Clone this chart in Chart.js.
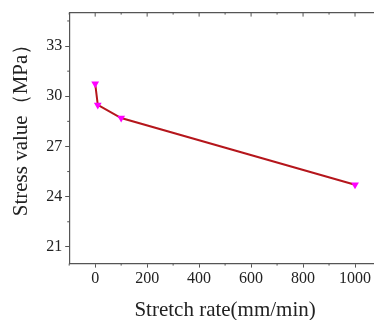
<!DOCTYPE html>
<html lang="en">
<head>
    <meta charset="UTF-8">
    <title>Stress vs stretch rate</title>
    <script src="https://cdn.jsdelivr.net/npm/chart.js"></script>
    <style>
        html, body { margin: 0; padding: 0; background: #fff; overflow: hidden; }
        #wrap { width: 374px; height: 320px; overflow: hidden; position: relative; }
        #stressChart { position: absolute; left: 0; top: 0; }
    </style>
</head>
<body>
    <div id="wrap"><canvas id="stressChart" width="386" height="320"></canvas></div>

    <script>
        // data
        const stretchRates = [0, 10, 100, 1000];
        const stressValues = [30.75, 29.48, 28.7, 24.71];

        const xMajorTicks = [0, 200, 400, 600, 800, 1000];
        const xMinorTicks = [-100, 100, 300, 500, 700, 900, 1100];
        const yMajorTicks = [21, 24, 27, 30, 33];
        const yMinorTicks = [22.5, 25.5, 28.5, 31.5, 34.5];

        const axisColor = '#555';
        const serif = "'Liberation Serif', 'DejaVu Serif', serif";

        // top frame line, minor ticks, inward ticks on top axis
        const framePlugin = {
            id: 'frame',
            afterDraw(chart) {
                const ctx = chart.ctx;
                const a = chart.chartArea;
                const xs = chart.scales.x, ys = chart.scales.y;
                ctx.save();
                ctx.strokeStyle = axisColor;
                ctx.lineWidth = 1.2;
                ctx.beginPath();
                ctx.moveTo(a.left, a.top);
                ctx.lineTo(a.right, a.top);
                ctx.stroke();

                ctx.lineWidth = 1;
                ctx.beginPath();
                xMinorTicks.forEach(v => {
                    const px = xs.getPixelForValue(v);
                    ctx.moveTo(px, a.bottom); ctx.lineTo(px, a.bottom + 2);
                    ctx.moveTo(px, a.top); ctx.lineTo(px, a.top + 2);
                });
                xMajorTicks.forEach(v => {
                    const px = xs.getPixelForValue(v);
                    ctx.moveTo(px, a.top); ctx.lineTo(px, a.top + 4);
                });
                yMinorTicks.forEach(v => {
                    const py = ys.getPixelForValue(v);
                    ctx.moveTo(a.left, py); ctx.lineTo(a.left - 2, py);
                });
                ctx.stroke();
                ctx.restore();
            }
        };

        new Chart(document.getElementById('stressChart'), {
            type: 'line',
            data: {
                datasets: [{
                    data: stretchRates.map((r, i) => ({ x: r, y: stressValues[i] })),
                    borderColor: '#b5161c',
                    borderWidth: 2,
                    pointStyle: 'triangle',
                    rotation: 180,
                    pointRadius: 4.5,
                    pointBackgroundColor: '#ff00ff',
                    pointBorderColor: '#ff00ff',
                    pointBorderWidth: 0,
                    fill: false,
                    tension: 0
                }]
            },
            options: {
                responsive: false,
                animation: false,
                layout: { padding: { top: 11, right: 5, left: 9, bottom: -3 } },
                plugins: { legend: { display: false }, tooltip: { enabled: false } },
                scales: {
                    x: {
                        type: 'linear',
                        min: -100,
                        max: 1100,
                        afterBuildTicks: s => { s.ticks = xMajorTicks.map(v => ({ value: v })); },
                        ticks: {
                            color: '#222',
                            font: { family: serif, size: 16 },
                            padding: 2,
                            callback: v => String(v)
                        },
                        grid: { drawOnChartArea: false, tickLength: 4, color: axisColor },
                        border: { color: axisColor, width: 1.2 },
                        title: {
                            display: true,
                            text: 'Stretch rate(mm/min)',
                            color: '#222',
                            font: { family: serif, size: 21 },
                            padding: { top: 7, bottom: 0 }
                        }
                    },
                    y: {
                        min: 20,
                        max: 35,
                        afterBuildTicks: s => { s.ticks = yMajorTicks.map(v => ({ value: v })); },
                        ticks: { color: '#222', font: { family: serif, size: 16 }, padding: 3 },
                        grid: { drawOnChartArea: false, tickLength: 4, color: axisColor },
                        border: { color: axisColor, width: 1.2 },
                        title: {
                            display: true,
                            text: '     Stress value（MPa）',
                            color: '#222',
                            font: { family: serif, size: 21 },
                            padding: { top: 0, bottom: 9 }
                        }
                    }
                }
            },
            plugins: [framePlugin]
        });
    </script>
</body>
</html>
